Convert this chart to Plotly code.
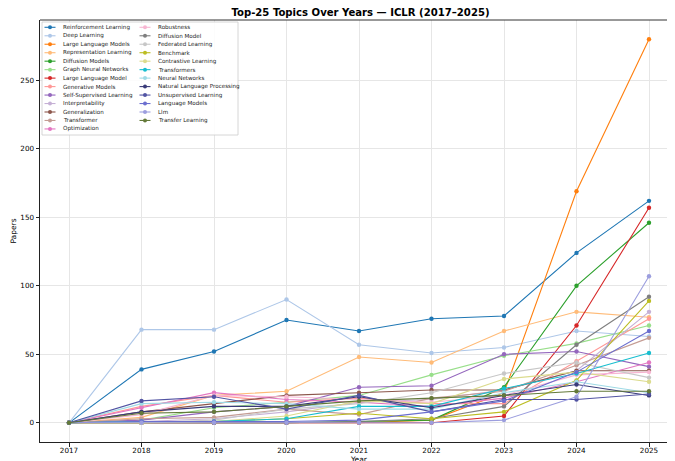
import plotly.graph_objects as go

years = [2017, 2018, 2019, 2020, 2021, 2022, 2023, 2024, 2025]

topics = [
    "Reinforcement Learning", "Deep Learning", "Large Language Models",
    "Representation Learning", "Diffusion Models", "Graph Neural Networks",
    "Large Language Model", "Generative Models", "Self-Supervised Learning",
    "Interpretability", "Generalization", "Transformer", "Optimization",
    "Robustness", "Diffusion Model", "Federated Learning", "Benchmark",
    "Contrastive Learning", "Transformers", "Neural Networks",
    "Natural Language Processing", "Unsupervised Learning", "Language Models",
    "Llm", "Transfer Learning",
]

reinforcement_learning = [0, 39, 52, 75, 67, 76, 78, 124, 162]
deep_learning = [0, 68, 68, 90, 57, 51, 55, 67, 63]
large_language_models = [0, 0, 0, 0, 0, 2, 22, 169, 280]
representation_learning = [0, 4, 20, 23, 48, 44, 67, 81, 77]
diffusion_models = [0, 0, 0, 0, 1, 2, 26, 100, 146]
graph_neural_networks = [0, 2, 11, 15, 20, 35, 49, 58, 71]
large_language_model = [0, 0, 0, 0, 0, 0, 5, 71, 157]
generative_models = [0, 12, 20, 15, 18, 14, 14, 45, 76]
self_supervised_learning = [0, 2, 8, 12, 26, 27, 50, 52, 41]
interpretability = [0, 1, 3, 8, 15, 17, 24, 38, 81]
generalization = [0, 8, 14, 20, 22, 24, 24, 38, 38]
transformer = [0, 3, 4, 10, 6, 18, 23, 42, 62]
optimization = [0, 11, 22, 17, 15, 12, 18, 30, 44]
robustness = [0, 6, 20, 19, 17, 15, 20, 35, 37]
diffusion_model = [0, 0, 0, 0, 1, 3, 12, 57, 92]
federated_learning = [0, 0, 2, 10, 14, 22, 36, 44, 33]
benchmark = [0, 0, 1, 3, 7, 3, 8, 31, 89]
contrastive_learning = [0, 0, 1, 5, 16, 14, 32, 37, 30]
transformers = [0, 1, 1, 3, 12, 12, 25, 36, 51]
neural_networks = [0, 14, 15, 14, 10, 10, 22, 30, 22]
natural_language_processing = [0, 8, 12, 12, 19, 11, 20, 28, 20]
unsupervised_learning = [0, 16, 19, 10, 20, 8, 17, 17, 21]
language_models = [0, 1, 1, 1, 2, 8, 16, 37, 67]
llm = [0, 0, 0, 0, 0, 0, 2, 19, 107]
transfer_learning = [0, 7, 8, 12, 16, 18, 20, 23, 23]

series = [
    reinforcement_learning, deep_learning, large_language_models,
    representation_learning, diffusion_models, graph_neural_networks,
    large_language_model, generative_models, self_supervised_learning,
    interpretability, generalization, transformer, optimization,
    robustness, diffusion_model, federated_learning, benchmark,
    contrastive_learning, transformers, neural_networks,
    natural_language_processing, unsupervised_learning, language_models,
    llm, transfer_learning,
]

colors = [
    "#1f77b4", "#aec7e8", "#ff7f0e", "#ffbb78", "#2ca02c", "#98df8a",
    "#d62728", "#ff9896", "#9467bd", "#c5b0d5", "#8c564b", "#c49c94",
    "#e377c2", "#f7b6d2", "#7f7f7f", "#c7c7c7", "#bcbd22", "#dbdb8d",
    "#17becf", "#9edae5", "#393b79", "#5254a3", "#6b6ecf", "#9c9ede",
    "#637939",
]

yticks = [0, 50, 100, 150, 200, 250]

# The page places the figure 8px in from the top-left corner (body margin),
# so the figure is sized to fit the 675x461 window from there.
OFF = 8
W_FIG, H_FIG = 675 - OFF, 461 - OFF
L, R, T, B = 40 - OFF, 0, 20 - OFF, 19
PW, PH = W_FIG - L - R, H_FIG - T - B

FONT = "DejaVu Sans"

fig = go.Figure()
for name, vals, col in zip(topics, series, colors):
    fig.add_trace(go.Scatter(
        x=years, y=vals, name=name, mode="lines+markers",
        line=dict(color=col, width=1.1),
        marker=dict(color=col, size=4.4),
        showlegend=False,
    ))


# helpers: page pixel -> paper coordinates
def px_x(p):
    return (p - OFF - L) / PW


def px_y(p):
    return 1 - (p - OFF - T) / PH


shapes = []
annotations = []
# legend frame
shapes.append(dict(type="rect", xref="paper", yref="paper",
                   x0=px_x(42), x1=px_x(238), y0=px_y(135), y1=px_y(22),
                   line=dict(color="#cccccc", width=0.8),
                   fillcolor="rgba(255,255,255,0.85)", layer="above"))
rows = 13
for i, (name, col) in enumerate(zip(topics, colors)):
    c, r = divmod(i, rows)
    cx = 50 if c == 0 else 145
    tx = 60.5 if c == 0 else 155.5
    cy = 27.3 + r * 8.47
    shapes.append(dict(type="line", xref="paper", yref="paper",
                       x0=px_x(cx - 5.5), x1=px_x(cx + 5.5),
                       y0=px_y(cy), y1=px_y(cy),
                       line=dict(color=col, width=1.1), layer="above"))
    shapes.append(dict(type="circle", xref="paper", yref="paper",
                       x0=px_x(cx - 2), x1=px_x(cx + 2),
                       y0=px_y(cy + 2), y1=px_y(cy - 2),
                       line=dict(color=col, width=0), fillcolor=col,
                       layer="above"))
    annotations.append(dict(xref="paper", yref="paper", x=px_x(tx), y=px_y(cy),
                            text=name, showarrow=False, xanchor="left",
                            yanchor="middle",
                            font=dict(family=FONT, size=5.6, color="#222")))

# x-axis title (sits at the bottom edge, as in the reference)
annotations.append(dict(xref="paper", yref="paper", x=px_x(359), y=px_y(453),
                        text="Year", showarrow=False, xanchor="center",
                        yanchor="top", font=dict(family=FONT, size=7.5,
                                                 color="black")))

# top spine
shapes.append(dict(type="line", xref="paper", yref="paper", x0=0, x1=1,
                   y0=1, y1=1, line=dict(color="#333", width=1), layer="above"))

fig.update_layout(
    width=W_FIG, height=H_FIG,
    margin=dict(l=L, r=R, t=T, b=B, pad=0),
    paper_bgcolor="white", plot_bgcolor="white",
    font=dict(family=FONT, size=7.2, color="black"),
    title=dict(text="<b>Top-25 Topics Over Years — ICLR (2017–2025)</b>",
               x=(L + PW / 2 + 3) / W_FIG, xanchor="center",
               y=1 - (12 - OFF) / H_FIG, yanchor="middle", yref="container",
               font=dict(family=FONT, size=10.1, color="black")),
    shapes=shapes, annotations=annotations,
    showlegend=False,
    xaxis=dict(
        range=[2016.6, 2016.6 + PW / 72.5], tickvals=years,
        ticktext=[str(y) for y in years],
        showgrid=True, gridcolor="#e6e6e6", gridwidth=1,
        zeroline=False, showline=True, linecolor="#222", linewidth=1,
        ticks="outside", ticklen=3.5, tickwidth=0.8, tickcolor="#222",
        tickfont=dict(family=FONT, size=7.2),
        ticklabelstandoff=-2,
        automargin=False,
    ),
    yaxis=dict(
        range=[-14, 294], tickvals=yticks,
        showgrid=True, gridcolor="#e6e6e6", gridwidth=1,
        zeroline=False, showline=True, linecolor="#222", linewidth=1,
        ticks="outside", ticklen=3.5, tickwidth=0.8, tickcolor="#222",
        tickfont=dict(family=FONT, size=7.2),
        title=dict(text="Papers", standoff=2, font=dict(family=FONT, size=7.5)),
        automargin=False,
    ),
)

fig.write_html("out.html")
